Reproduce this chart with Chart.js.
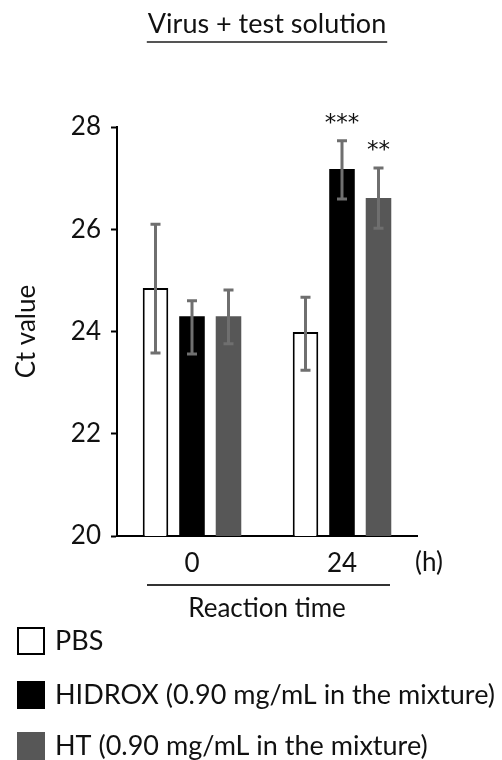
<!DOCTYPE html>
<html>
<head>
<meta charset="utf-8">
<script src="https://cdn.jsdelivr.net/npm/chart.js@4.4.1/dist/chart.umd.min.js"></script>
<style>
    html, body { margin: 0; padding: 0; background: #fff; }
    #wrap { width: 502px; height: 760px; }
</style>
</head>
<body>
<div id="wrap"><canvas id="ct-chart" width="502" height="760"></canvas></div>
<script>
const FONT = "Lato, 'Open Sans', sans-serif";

// Data
const reactionTimes = ["0", "24"];
const seriesNames = ["PBS", "HIDROX (0.90 mg/mL in the mixture)", "HT (0.90 mg/mL in the mixture)"];
const pbsValues = [24.85, 23.99];
const hidroxValues = [24.30, 27.18];
const htValues = [24.30, 26.61];
// error bar ends (low / high)
const pbsLow = [23.58, 23.24];
const pbsHigh = [26.10, 24.67];
const hidroxLow = [23.56, 26.59];
const hidroxHigh = [24.60, 27.73];
const htLow = [23.76, 26.02];
const htHigh = [24.81, 27.20];
const hidroxSig = ["", "***"];
const htSig = ["", "**"];
const yTicks = [20, 22, 24, 26, 28];

const errorBars = {
    id: "errorBars",
    afterDatasetsDraw(chart) {
        const { ctx, scales: { y } } = chart;
        ctx.save();
        chart.data.datasets.forEach((ds, di) => {
            const meta = chart.getDatasetMeta(di);
            meta.data.forEach((bar, i) => {
                const yLo = y.getPixelForValue(ds.errLow[i]);
                const yHi = y.getPixelForValue(ds.errHigh[i]);
                ctx.strokeStyle = "#6f6f6f";
                ctx.lineWidth = 3;
                ctx.beginPath();
                ctx.moveTo(bar.x, yLo);
                ctx.lineTo(bar.x, yHi);
                ctx.moveTo(bar.x - 5, yLo);
                ctx.lineTo(bar.x + 5, yLo);
                ctx.moveTo(bar.x - 5, yHi);
                ctx.lineTo(bar.x + 5, yHi);
                ctx.stroke();
                const sig = ds.sig && ds.sig[i];
                if (sig) {
                    ctx.fillStyle = "#111";
                    ctx.font = "23px 'DejaVu Sans', sans-serif";
                    ctx.textAlign = "center";
                    ctx.textBaseline = "alphabetic";
                    ctx.fillText(sig, bar.x, yHi - 11);
                }
            });
        });
        ctx.restore();
    }
};

const extras = {
    id: "extras",
    afterDraw(chart) {
        const { ctx, chartArea, scales: { x } } = chart;
        const cx = (chartArea.left + chartArea.right) / 2;
        ctx.save();
        // title with underline
        ctx.fillStyle = "#111";
        ctx.font = "27px " + FONT;
        ctx.textAlign = "center";
        ctx.textBaseline = "alphabetic";
        const title = "Virus + test solution";
        ctx.fillText(title, cx, 33);
        const tw = ctx.measureText(title).width;
        ctx.strokeStyle = "#555";
        ctx.lineWidth = 2;
        ctx.beginPath();
        ctx.moveTo(cx - tw / 2 - 1, 42);
        ctx.lineTo(cx + tw / 2 + 1, 42);
        ctx.stroke();

        // unit next to the x ticks
        ctx.font = "26px " + FONT;
        ctx.textAlign = "left";
        ctx.textBaseline = "middle";
        ctx.fillText("(h)", x.right - 2, chartArea.bottom + 27);

        // line above "Reaction time"
        ctx.strokeStyle = "#333";
        ctx.beginPath();
        ctx.moveTo(x.left + 30, chartArea.bottom + 49);
        ctx.lineTo(x.right - 27, chartArea.bottom + 49);
        ctx.stroke();

        // legend
        const rows = [105, 159, 210];
        chart.data.datasets.forEach((ds, i) => {
            const yc = chartArea.bottom + rows[i];
            ctx.fillStyle = ds.backgroundColor;
            ctx.fillRect(18, yc - 13, 26, 26);
            ctx.strokeStyle = ds.borderColor;
            ctx.lineWidth = 2;
            ctx.strokeRect(18, yc - 13, 26, 26);
            ctx.fillStyle = "#111";
            ctx.font = "27px " + FONT;
            ctx.textAlign = "left";
            ctx.textBaseline = "middle";
            ctx.fillText(ds.label, 55, yc);
        });
        ctx.restore();
    }
};

new Chart(document.getElementById("ct-chart"), {
    type: "bar",
    plugins: [errorBars, extras],
    data: {
        labels: reactionTimes,
        datasets: [
            {
                label: seriesNames[0],
                data: pbsValues,
                errLow: pbsLow,
                errHigh: pbsHigh,
                backgroundColor: "#ffffff",
                borderColor: "#000000",
                borderWidth: 2,
                borderSkipped: false
            },
            {
                label: seriesNames[1],
                data: hidroxValues,
                errLow: hidroxLow,
                errHigh: hidroxHigh,
                sig: hidroxSig,
                backgroundColor: "#000000",
                borderColor: "#000000",
                borderWidth: 0
            },
            {
                label: seriesNames[2],
                data: htValues,
                errLow: htLow,
                errHigh: htHigh,
                sig: htSig,
                backgroundColor: "#575757",
                borderColor: "#575757",
                borderWidth: 0
            }
        ]
    },
    options: {
        responsive: false,
        animation: false,
        events: [],
        categoryPercentage: 0.73,
        barPercentage: 0.7,
        layout: {
            padding: { top: 127, left: 0, right: 85, bottom: 134 }
        },
        plugins: {
            legend: { display: false },
            tooltip: { enabled: false }
        },
        scales: {
            x: {
                offset: true,
                afterFit: (s) => { s.height = 90; },
                grid: { display: false, drawTicks: false },
                border: { display: true, color: "#000", width: 2 },
                ticks: { color: "#111", font: { family: FONT, size: 26 }, padding: 12 },
                title: {
                    display: true,
                    text: "Reaction time",
                    color: "#111",
                    font: { family: FONT, size: 26 },
                    padding: { top: 0, bottom: 2 }
                }
            },
            y: {
                min: 20,
                max: 28,
                afterFit: (s) => { s.width = 117; },
                afterBuildTicks: (s) => { s.ticks = yTicks.map(v => ({ value: v })); },
                grid: { drawOnChartArea: false, drawTicks: true, tickLength: 6, tickWidth: 2, tickColor: "#000" },
                border: { display: true, color: "#000", width: 2 },
                ticks: { color: "#111", font: { family: FONT, size: 26 }, padding: 10 },
                title: {
                    display: true,
                    text: "Ct value",
                    color: "#111",
                    font: { family: FONT, size: 26 },
                    padding: { top: 11, bottom: 0 }
                }
            }
        }
    }
});
</script>
</body>
</html>
